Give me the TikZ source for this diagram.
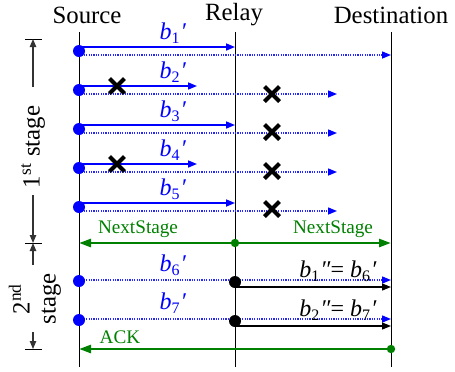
\documentclass[tikz,border=0pt]{standalone}
\usepackage{fontspec}
\setmainfont{Liberation Serif}
\usetikzlibrary{arrows.meta,shapes.misc}
\definecolor{pblue}{RGB}{0,0,255}
\definecolor{pgreen}{RGB}{0,128,0}
\newcommand{\bsym}[2]{\textit{b}\textsubscript{#1}\textit{#2}}
\begin{document}
\begin{tikzpicture}[x=0.5pt,y=-0.5pt,
  title/.style={font=\fontsize{12.4}{14}\selectfont, inner sep=0},
  blabel/.style={text=pblue,font=\fontsize{12}{14}\selectfont,inner sep=0},
  glabel/.style={text=pgreen,font=\fontsize{9.6}{11}\selectfont,inner sep=0},
  klabel/.style={text=black,font=\fontsize{12}{14}\selectfont,inner sep=0},
  stagelabel/.style={font=\fontsize{12.4}{13}\selectfont,inner sep=0,rotate=90,align=center},
  vline/.style={draw=black,line width=0.5pt},
  bsolid/.style={draw=pblue,line width=0.8pt,-{Triangle[length=4.5pt,width=3.5pt]}},
  bdotted/.style={draw=pblue!85,line width=0.7pt,dash pattern=on 0.6pt off 0.6pt,-{Triangle[length=4.5pt,width=3.5pt,fill=pblue,color=pblue]}},
  ksolid/.style={draw=black,line width=0.6pt,-{Triangle[length=4.5pt,width=3.5pt]}},
  garrow/.style={draw=pgreen,line width=1.3pt,-{Triangle[length=6pt,width=4pt]}},
  bdot/.style={circle,fill=pblue,inner sep=0,minimum size=6pt},
  kdot/.style={circle,fill=black,inner sep=0,minimum size=6pt},
  gdot/.style={circle,fill=pgreen,inner sep=0,minimum size=4.2pt},
  xmark/.style={cross out,draw=black,line width=2pt,inner sep=0,minimum size=5.5pt},
  bar/.style={draw=black,line width=0.5pt},
  stagearrow/.style={draw=black!80,line width=0.6pt,-{Triangle[length=4pt,width=3.2pt]}}
]
\useasboundingbox (0,0) rectangle (455,371);

% titles
\node[title] (tS) at (87,15) {Source};
\node[title] (tR) at (234,15) {Relay};
\node[title] (tD) at (391,15) {Destination};

% vertical lines
\coordinate (St) at (79,32);  \coordinate (Sb) at (79,367);
\coordinate (Rt) at (235,32); \coordinate (Rb) at (235,367);
\coordinate (Dt) at (391,32); \coordinate (Db) at (391,367);
\draw[vline] (St) -- (Sb);
\draw[vline] (Rt) -- (Rb);
\draw[vline] (Dt) -- (Db);

% short arrow ends
\coordinate (Xs) at (197,0);
\coordinate (Xd) at (337,0);

% ---- first stage rows ----
% row 1
\coordinate (s1) at (79,47); \coordinate (d1) at (79,55);
\draw[bsolid] (s1) -- (s1 -| Rt);
\draw[bdotted] (d1) -- (d1 -| Dt);
\node[bdot] (p1) at (79,51) {};
\node[blabel] (l1) at (173,33) {\bsym{1}{′}};

% row 2
\coordinate (s2) at (79,86); \coordinate (d2) at (79,94);
\draw[bsolid] (s2) -- (s2 -| Xs);
\draw[bdotted] (d2) -- (d2 -| Xd);
\node[bdot] (p2) at (79,90) {};
\node[xmark] (x2a) at (117,86) {};
\node[xmark] (x2b) at (272,94) {};
\node[blabel] (l2) at (173,72) {\bsym{2}{′}};

% row 3
\coordinate (s3) at (79,125); \coordinate (d3) at (79,133);
\draw[bsolid] (s3) -- (s3 -| Rt);
\draw[bdotted] (d3) -- (d3 -| Xd);
\node[bdot] (p3) at (79,129) {};
\node[xmark] (x3b) at (272,132) {};
\node[blabel] (l3) at (173,111) {\bsym{3}{′}};

% row 4
\coordinate (s4) at (79,164); \coordinate (d4) at (79,172);
\draw[bsolid] (s4) -- (s4 -| Xs);
\draw[bdotted] (d4) -- (d4 -| Xd);
\node[bdot] (p4) at (79,168) {};
\node[xmark] (x4a) at (117,164) {};
\node[xmark] (x4b) at (272,171) {};
\node[blabel] (l4) at (173,150) {\bsym{4}{′}};

% row 5
\coordinate (s5) at (79,203); \coordinate (d5) at (79,211);
\draw[bsolid] (s5) -- (s5 -| Rt);
\draw[bdotted] (d5) -- (d5 -| Xd);
\node[bdot] (p5) at (79,207) {};
\node[xmark] (x5b) at (272,209) {};
\node[blabel] (l5) at (173,189) {\bsym{5}{′}};

% ---- NextStage ----
\node[gdot] (gR) at (235,243) {};
\coordinate (gS) at (79,243); \coordinate (gD) at (391,243);
\draw[garrow] (gR.center) -- (gS);
\draw[garrow] (gR.center) -- (gD);
\node[glabel] (ns1) at (138,229) {NextStage};
\node[glabel] (ns2) at (333,229) {NextStage};

% ---- second stage rows ----
% row 6
\coordinate (d6) at (79,280);
\draw[bdotted] (d6) -- (d6 -| Dt);
\node[bdot] (p6) at (79,281) {};
\node[kdot] (r6) at (235,282) {};
\coordinate (k6) at (235,287);
\draw[ksolid] (k6) -- (k6 -| Dt);
\node[blabel] (l6) at (173,265) {\bsym{6}{′}};
\node[klabel] (m6) at (338,271) {\bsym{1}{″}= \bsym{6}{′}};

% row 7
\coordinate (d7) at (79,319);
\draw[bdotted] (d7) -- (d7 -| Dt);
\node[bdot] (p7) at (79,320) {};
\node[kdot] (r7) at (235,321) {};
\coordinate (k7) at (235,326);
\draw[ksolid] (k7) -- (k7 -| Dt);
\node[blabel] (l7) at (173,303) {\bsym{7}{′}};
\node[klabel] (m7) at (338,310) {\bsym{2}{″}= \bsym{7}{′}};

% ---- ACK ----
\node[gdot] (aD) at (391,349) {};
\coordinate (aS) at (79,349);
\draw[garrow] (aD.center) -- (aS);
\node[glabel] (ack) at (120,337) {ACK};

% ---- stage markers ----
\coordinate (b1l) at (25,39);  \coordinate (b1r) at (42,39);
\coordinate (b2l) at (25,243); \coordinate (b2r) at (42,243);
\coordinate (b3l) at (25,349); \coordinate (b3r) at (42,349);
\draw[bar] (b1l) -- (b1r);
\draw[bar] (b2l) -- (b2r);
\draw[bar] (b3l) -- (b3r);
\coordinate (m1) at (33,39);
\coordinate (m2) at (33,243);
\coordinate (m3) at (33,349);
\coordinate (a1) at (33,87);
\coordinate (a2) at (33,195);
\coordinate (a3) at (33,265);
\coordinate (a4) at (33,332);
\draw[stagearrow] (a1) -- (m1);
\draw[stagearrow] (a2) -- (m2);
\draw[stagearrow] (a3) -- (m2);
\draw[stagearrow] (a4) -- (m3);
\node[stagelabel] (st1) at (33,147) {1\textsuperscript{st} stage};
\node[stagelabel] (st2) at (35,299) {2\textsuperscript{nd}\\stage};
\end{tikzpicture}
\end{document}
